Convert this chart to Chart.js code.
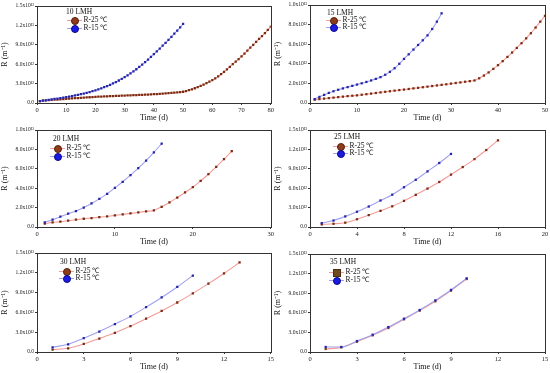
<!DOCTYPE html>
<html>
<head>
<meta charset="utf-8">
<script src="https://cdn.jsdelivr.net/npm/chart.js@4.4.1/dist/chart.umd.min.js"></script>
<style>
  html, body { margin: 0; padding: 0; background: #fff; }
  #wrap { position: relative; width: 550px; height: 373px; overflow: hidden; font-family: "Liberation Serif", "Times New Roman", serif; }
  .panel { position: absolute; }
  .legend { position: absolute; font-size: 7.5px; color: #111; line-height: 1; white-space: nowrap; }
  .lg-title { position: absolute; transform: translateY(-50%); }
  .lg-row { position: absolute; transform: translateY(-50%); height: 8px; }
  .lg-line { position: absolute; top: 3.5px; left: 0; width: 15px; height: 1px; }
  .lg-mark { position: absolute; top: 0.5px; left: 4px; width: 6px; height: 6px; border-radius: 50%; border: 0.5px solid; }
  .lg-text { position: absolute; left: 17px; top: 0; }
</style>
</head>
<body>
<div id="wrap"></div>
<script>
// ---------- 数据 (单位 10^12 m^-1, 按天 1, 2, 3 ...) ----------
const SERIES_NAMES = ['R-25 ℃', 'R-15 ℃'];
const PANEL_TITLES = ['10 LMH', '15 LMH', '20 LMH', '25 LMH', '30 LMH', '35 LMH'];

const lmh10R25 = [
  0.30, 0.35, 0.39, 0.43, 0.47, 0.51, 0.54, 0.58, 0.61, 0.65,
  0.68, 0.71, 0.74, 0.77, 0.80, 0.83, 0.86, 0.89, 0.92, 0.95,
  0.97, 0.99, 1.01, 1.03, 1.05, 1.07, 1.09, 1.11, 1.13, 1.15,
  1.17, 1.19, 1.21, 1.23, 1.25, 1.27, 1.29, 1.31, 1.33, 1.36,
  1.39, 1.42, 1.45, 1.48, 1.51, 1.55, 1.59, 1.63, 1.68, 1.74,
  1.85, 1.98, 2.12, 2.28, 2.45, 2.64, 2.84, 3.06, 3.29, 3.54,
  3.80, 4.10, 4.45, 4.80, 5.20, 5.60, 6.00, 6.40, 6.80, 7.20,
  7.65, 8.10, 8.55, 9.00, 9.45, 9.90, 10.35, 10.80, 11.30, 11.80
];
const lmh10R15 = [
  0.30, 0.36, 0.42, 0.48, 0.55, 0.62, 0.69, 0.76, 0.84, 0.92,
  1.00, 1.08, 1.17, 1.26, 1.36, 1.46, 1.57, 1.69, 1.82, 1.96,
  2.11, 2.27, 2.44, 2.62, 2.81, 3.02, 3.24, 3.48, 3.73, 4.00,
  4.28, 4.58, 4.89, 5.22, 5.57, 5.93, 6.31, 6.71, 7.12, 7.55,
  7.98, 8.42, 8.86, 9.31, 9.77, 10.24, 10.72, 11.21, 11.71, 12.22
];
const lmh15R25 = [
  0.34, 0.40, 0.45, 0.50, 0.55, 0.60, 0.65, 0.70, 0.74, 0.78,
  0.84, 0.90, 0.96, 1.02, 1.08, 1.14, 1.20, 1.26, 1.32, 1.37,
  1.43, 1.49, 1.55, 1.61, 1.67, 1.73, 1.79, 1.85, 1.91, 1.98,
  2.04, 2.10, 2.17, 2.23, 2.30, 2.52, 2.80, 3.12, 3.48, 3.86,
  4.27, 4.70, 5.15, 5.62, 6.10, 6.60, 7.12, 7.70, 8.30, 8.90
];
const lmh15R15 = [
  0.40, 0.62, 0.83, 1.03, 1.20, 1.35, 1.49, 1.62, 1.75, 1.88,
  2.01, 2.15, 2.30, 2.46, 2.64, 2.88, 3.18, 3.55, 4.00, 4.50,
  4.97, 5.45, 5.92, 6.40, 6.90, 7.55, 8.30, 9.15
];
const lmh20R25 = [
  0.34, 0.48, 0.55, 0.65, 0.75, 0.85, 0.92, 1.02, 1.09, 1.20,
  1.30, 1.40, 1.50, 1.61, 1.71, 2.08, 2.53, 3.04, 3.56, 4.11,
  4.76, 5.44, 6.20, 6.99, 7.81
];
const lmh20R15 = [
  0.48, 0.75, 1.06, 1.37, 1.64, 2.00, 2.43, 2.90, 3.42, 4.04,
  4.66, 5.34, 6.06, 6.85, 7.70, 8.60
];
const lmh25R25 = [
  0.40, 0.50, 0.67, 1.20, 1.84, 2.50, 3.20, 4.04, 4.97, 5.94,
  6.96, 8.10, 9.27, 10.50, 11.90, 13.40
];
const lmh25R15 = [
  0.60, 1.00, 1.64, 2.36, 3.17, 4.10, 5.00, 6.15, 7.30, 8.60,
  9.90, 11.30
];
const lmh30R25 = [
  0.36, 0.56, 1.22, 2.04, 2.90, 3.93, 5.05, 6.22, 7.50, 8.88,
  10.36, 11.90, 13.57
];
const lmh30R15 = [
  0.71, 1.17, 2.09, 3.10, 4.23, 5.40, 6.80, 8.27, 9.85, 11.58
];
const lmh35R25 = [
  0.46, 0.71, 1.58, 2.55, 3.67, 5.00, 6.33, 7.76, 9.39, 11.17
];
const lmh35R15 = [
  0.77, 0.77, 1.68, 2.65, 3.82, 5.10, 6.43, 7.90, 9.50, 11.27
];

const PANEL_DATA = [
  [lmh10R25, lmh10R15], [lmh15R25, lmh15R15], [lmh20R25, lmh20R15],
  [lmh25R25, lmh25R15], [lmh30R25, lmh30R15], [lmh35R25, lmh35R15]
];
// 坐标轴范围
const X_MAX  = [80, 50, 30, 20, 15, 15];
const X_STEP = [10, 10, 10, 4, 3, 3];
const Y_MAX  = [15, 10, 10, 15, 15, 15];
const Y_STEP = [3, 2, 2, 3, 3, 3];

// ---------- 版面 ----------
const PANELS = [
  { left: 0,   top: 0,   w: 275, h: 124, padTop: 6, padRight: 3 },
  { left: 273, top: 0,   w: 277, h: 124, padTop: 5, padRight: 5 },
  { left: 0,   top: 124, w: 275, h: 124, padTop: 6, padRight: 3 },
  { left: 273, top: 124, w: 277, h: 124, padTop: 6, padRight: 5 },
  { left: 0,   top: 248, w: 275, h: 125, padTop: 5, padRight: 3 },
  { left: 273, top: 248, w: 277, h: 125, padTop: 6, padRight: 5 },
];
// 图例位置 (页面坐标)
const LEGENDS = [
  { tx: 66,  ty: 12,  mx: 74,  y1: 20,  y2: 28 },
  { tx: 327, ty: 13,  mx: 333, y1: 20,  y2: 27 },
  { tx: 53,  ty: 139, mx: 57,  y1: 148, y2: 156 },
  { tx: 334, ty: 137, mx: 340, y1: 146, y2: 153 },
  { tx: 60,  ty: 262, mx: 66,  y1: 271, y2: 278 },
  { tx: 330, ty: 262, mx: 336, y1: 272, y2: 280 },
];

const LINE_COLORS = ['#f29c98', '#a0a0ee'];
const MARK_COLORS = ['#7a2c12', '#2626a8'];
const LEGEND_FILL = ['#8b3d1c', '#1b1be0'];
const LEGEND_EDGE = ['#5a1f08', '#0a0a90'];
const AXIS_COLOR = '#333';
const FONT = '"Liberation Serif", "Times New Roman", serif';

const SUP = { '0': '⁰', '1': '¹', '2': '²', '3': '³' };
function fmtR(v) {
  if (v === 0) return '0.0';
  if (v >= 10) return (v / 10).toFixed(1) + 'x10' + SUP['1'] + SUP['3'];
  return v.toFixed(1) + 'x10' + SUP['1'] + SUP['2'];
}

// 四边框
const framePlugin = {
  id: 'frame',
  afterDraw(chart) {
    const { ctx, chartArea: a } = chart;
    ctx.save();
    ctx.strokeStyle = AXIS_COLOR;
    ctx.lineWidth = 1;
    ctx.strokeRect(Math.round(a.left) + 0.5, Math.round(a.top) + 0.5,
      Math.round(a.right - a.left), Math.round(a.bottom - a.top));
    ctx.restore();
  }
};

const wrap = document.getElementById('wrap');

PANELS.forEach((p, i) => {
  const box = document.createElement('div');
  box.className = 'panel';
  box.style.left = p.left + 'px';
  box.style.top = p.top + 'px';
  box.style.width = p.w + 'px';
  box.style.height = p.h + 'px';
  const cv = document.createElement('canvas');
  cv.width = p.w; cv.height = p.h;
  cv.style.width = p.w + 'px'; cv.style.height = p.h + 'px';
  box.appendChild(cv);
  wrap.appendChild(box);

  const isSq = i === 5;
  const datasets = PANEL_DATA[i].map((arr, k) => ({
    label: SERIES_NAMES[k],
    data: arr.map((v, d) => ({ x: d + 1, y: v })),
    borderColor: LINE_COLORS[k],
    borderWidth: 1.1,
    backgroundColor: (isSq && k === 0) ? '#6e4a1e' : MARK_COLORS[k],
    pointBorderWidth: 0,
    pointStyle: 'rect',
    pointRadius: 1.6,
    tension: 0.4,
    cubicInterpolationMode: 'monotone',
    order: k === 0 ? 1 : 0,
  }));

  new Chart(cv, {
    type: 'line',
    data: { datasets },
    options: {
      responsive: false,
      animation: false,
      devicePixelRatio: 1,
      layout: { padding: { top: p.padTop, right: p.padRight, left: 0, bottom: 0 } },
      plugins: { legend: { display: false }, tooltip: { enabled: false } },
      scales: {
        x: {
          type: 'linear', min: 0, max: X_MAX[i],
          ticks: { stepSize: X_STEP[i], color: '#222', font: { family: FONT, size: 6.5 }, padding: 1, maxRotation: 0 },
          grid: { drawOnChartArea: false, tickLength: 2, color: AXIS_COLOR },
          border: { color: AXIS_COLOR },
          title: { display: true, text: 'Time (d)', color: '#111', font: { family: FONT, size: 8 }, padding: { top: 0, bottom: 1 } },
          afterFit: (s) => { s.height = 21; }
        },
        y: {
          min: 0, max: Y_MAX[i],
          ticks: { stepSize: Y_STEP[i], color: '#222', font: { family: FONT, size: 5.5 }, padding: 1, callback: (v) => fmtR(v) },
          grid: { drawOnChartArea: false, tickLength: 2, color: AXIS_COLOR },
          border: { color: AXIS_COLOR },
          title: { display: true, text: 'R (m⁻¹)', color: '#111', font: { family: FONT, size: 8 }, padding: { top: 0, bottom: 0 } },
          afterFit: (s) => { s.width = 37; }
        }
      }
    },
    plugins: [framePlugin]
  });

  // 图例
  const L = LEGENDS[i];
  const lg = document.createElement('div');
  lg.className = 'legend';
  lg.style.left = '0px'; lg.style.top = '0px';
  let html = `<div class="lg-title" style="left:${L.tx}px;top:${L.ty}px">${PANEL_TITLES[i]}</div>`;
  [L.y1, L.y2].forEach((yy, k) => {
    const sq = isSq && k === 0;
    const fill = sq ? '#6e4a1e' : LEGEND_FILL[k];
    const edge = sq ? '#4a3010' : LEGEND_EDGE[k];
    html += `<div class="lg-row" style="left:${L.mx - 7.5}px;top:${yy}px">
      <span class="lg-line" style="background:${LINE_COLORS[k]}"></span>
      <span class="lg-mark" style="background:${fill};border-color:${edge};border-radius:${sq ? '0' : '50%'}"></span>
      <span class="lg-text">${SERIES_NAMES[k]}</span></div>`;
  });
  lg.innerHTML = html;
  wrap.appendChild(lg);
});
</script>
</body>
</html>
